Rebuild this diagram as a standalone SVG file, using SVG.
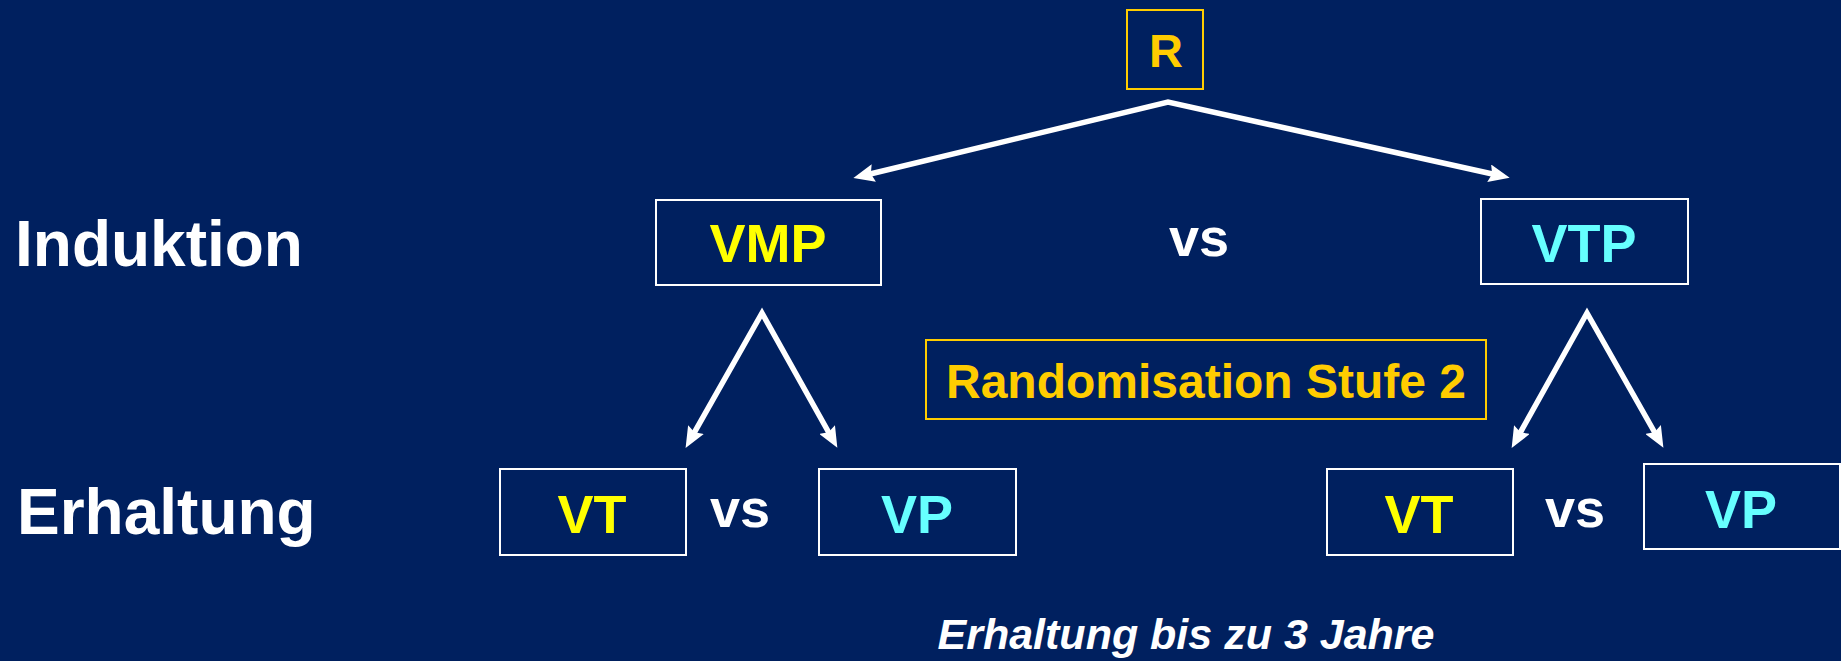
<svg xmlns="http://www.w3.org/2000/svg" width="1841" height="661" viewBox="0 0 1841 661">
<style>
text{font-family:"Liberation Sans",Arial,sans-serif;font-weight:bold}
.box{fill:none;stroke:#FFFFFF;stroke-width:2}
.gbox{fill:none;stroke:#FFCC00;stroke-width:2}
.lbl{font-size:54px;text-anchor:middle}
.y{fill:#FFFF00}
.c{fill:#66FFFF}
.w{fill:#FFFFFF}
.g{fill:#FFCC00}
.conn{fill:none;stroke:#FFFFFF;stroke-width:5.5;stroke-linejoin:miter;stroke-miterlimit:10}
</style>
<defs>
<marker id="ah" markerUnits="userSpaceOnUse" markerWidth="22" markerHeight="18" viewBox="0 0 22 18" refX="8" refY="9" orient="auto-start-reverse">
<path d="M0,0 L21,9 L0,18 L3,9 z" fill="#FFFFFF"/>
</marker>
</defs>
<rect width="1841" height="661" fill="#00205F"/>
<g id="row-labels">
<text x="15" y="266" font-size="64" class="w">Induktion</text>
<text x="17" y="534" font-size="64" class="w">Erhaltung</text>
</g>
<g id="connectors">
<path class="conn" d="M866,175 L1168,102 L1497,175" marker-start="url(#ah)" marker-end="url(#ah)"/>
<path class="conn" d="M692,436.6 L762,313 L831,436.5" marker-start="url(#ah)" marker-end="url(#ah)"/>
<path class="conn" d="M1518,436.6 L1587,313 L1657,436.5" marker-start="url(#ah)" marker-end="url(#ah)"/>
</g>
<g id="node-R">
<rect class="gbox" x="1127" y="10" width="76" height="79"/>
<text x="1166" y="67" font-size="47" text-anchor="middle" class="g">R</text>
</g>
<g id="node-VMP">
<rect class="box" x="656" y="200" width="225" height="85"/>
<text x="768" y="262" class="lbl y">VMP</text>
</g>
<g id="vs-top">
<text x="1199" y="256" class="lbl w">vs</text>
</g>
<g id="node-VTP">
<rect class="box" x="1481" y="199" width="207" height="85"/>
<text x="1584" y="262" class="lbl c">VTP</text>
</g>
<g id="node-rand2">
<rect class="gbox" x="926" y="340" width="560" height="79"/>
<text x="1206" y="398" font-size="48" text-anchor="middle" class="g">Randomisation Stufe 2</text>
</g>
<g id="node-VT-left">
<rect class="box" x="500" y="469" width="186" height="86"/>
<text x="592" y="533" class="lbl y">VT</text>
</g>
<g id="vs-left">
<text x="740" y="527" class="lbl w">vs</text>
</g>
<g id="node-VP-left">
<rect class="box" x="819" y="469" width="197" height="86"/>
<text x="917" y="533" class="lbl c">VP</text>
</g>
<g id="node-VT-right">
<rect class="box" x="1327" y="469" width="186" height="86"/>
<text x="1419" y="533" class="lbl y">VT</text>
</g>
<g id="vs-right">
<text x="1575" y="527" class="lbl w">vs</text>
</g>
<g id="node-VP-right">
<rect class="box" x="1644" y="464" width="196" height="85"/>
<text x="1741" y="528" class="lbl c">VP</text>
</g>
<g id="note">
<text x="1186" y="649" font-size="43" font-style="italic" text-anchor="middle" class="w">Erhaltung bis zu 3 Jahre</text>
</g>
</svg>
